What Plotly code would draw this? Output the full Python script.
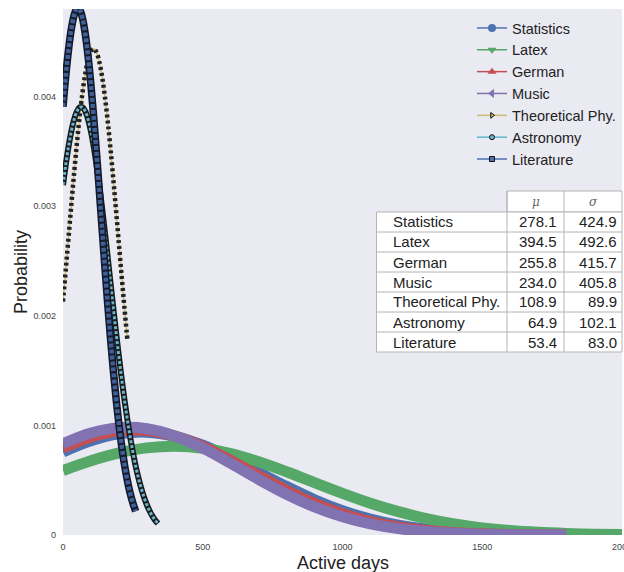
import plotly.graph_objects as go

# ---------------- data ----------------
subjects = ["Statistics", "Latex", "German", "Music", "Theoretical Phy.", "Astronomy", "Literature"]
mu = ["278.1", "394.5", "255.8", "234.0", "108.9", "64.9", "53.4"]
sigma = ["424.9", "492.6", "415.7", "405.8", "89.9", "102.1", "83.0"]
table_header = ["μ", "σ"]

days_wide = [0, 100, 200, 300, 400, 500, 600, 700, 800, 900, 1000, 1100, 1200,
             1300, 1400, 1500, 1600, 1700, 1800]
days_latex = days_wide + [1900, 2000]
stat_p = [0.000758, 0.000860, 0.000923, 0.000938, 0.000901, 0.000819, 0.000705, 0.000573,
          0.000442, 0.000322, 0.000222, 0.000145, 0.0000892, 0.0000521, 0.0000288,
          0.0000150, 0.0000074, 0.0000035, 0.0000015]
latex_p = [0.000588, 0.000677, 0.000749, 0.000795, 0.000810, 0.000792, 0.000742, 0.000668,
           0.000577, 0.000478, 0.000380, 0.000290, 0.000213, 0.000150, 0.000101,
           0.0000653, 0.0000406, 0.0000242, 0.0000138, 0.0000076, 0.0000040]
german_p = [0.000794, 0.000895, 0.000951, 0.000954, 0.000904, 0.000808, 0.000681, 0.000542,
            0.000407, 0.000289, 0.000193, 0.000122, 0.0000727, 0.0000409, 0.0000217,
            0.0000109, 0.0000051, 0.0000023, 0.0000010]
music_p = [0.000833, 0.000931, 0.000980, 0.000970, 0.000904, 0.000793, 0.000655, 0.000508,
           0.000372, 0.000256, 0.000166, 0.000101, 0.0000578, 0.0000312, 0.0000158,
           0.0000076, 0.0000034, 0.0000014, 0.0000006]

days_theo = [0, 10, 20, 30, 40, 50, 60, 70, 80, 90, 100, 110, 120, 130, 140, 150, 160,
             170, 180, 190, 200, 210, 220, 230]
theo_p = [0.002131, 0.002423, 0.002721, 0.003020, 0.003309, 0.003581, 0.003828, 0.004041,
          0.004214, 0.004341, 0.004416, 0.004438, 0.004404, 0.004317, 0.004181, 0.003998,
          0.003776, 0.003522, 0.003246, 0.002954, 0.002656, 0.002358, 0.002068, 0.001791]

days_astro = [0, 10, 20, 30, 40, 50, 60, 70, 80, 90, 100, 110, 120, 130, 140, 150, 160,
              170, 180, 190, 200, 210, 220, 230, 240, 250, 260, 270, 280, 290, 300, 310,
              320, 330, 340]
astro_p = [0.003193, 0.003381, 0.003547, 0.003686, 0.003793, 0.003866, 0.003903, 0.003902,
           0.003865, 0.003791, 0.003683, 0.003544, 0.003378, 0.003188, 0.002981, 0.002760,
           0.002532, 0.002300, 0.002070, 0.001844, 0.001628, 0.001423, 0.001232, 0.001057,
           0.000898, 0.000756, 0.000629, 0.000520, 0.000425, 0.000344, 0.000276, 0.000219,
           0.000172, 0.000134, 0.000104]

days_lit = [0, 10, 20, 30, 40, 50, 60, 70, 80, 90, 100, 110, 120, 130, 140, 150, 160,
            170, 180, 190, 200, 210, 220, 230, 240, 250, 260]
lit_p = [0.003908, 0.004193, 0.004433, 0.004620, 0.004745, 0.004803, 0.004792, 0.004712,
         0.004566, 0.004362, 0.004106, 0.003810, 0.003484, 0.003140, 0.002789, 0.002442,
         0.002107, 0.001792, 0.001502, 0.001241, 0.001010, 0.000811, 0.000641, 0.000500,
         0.000384, 0.000291, 0.000217]

x_ticks = [0, 500, 1000, 1500, 2000]
y_ticks = [0, 0.001, 0.002, 0.003, 0.004]
y_ticktext = ["0", "0.001", "0.002", "0.003", "0.004"]

# ---------------- geometry ----------------
BLUE, GREEN, RED, PURPLE, YELLOW, CYAN = "#4C72B0", "#55A868", "#C44E52", "#8172B2", "#CCB974", "#64B5CD"
W, H = 624, 572
ML, MR, MT, MB = 63, 2, 9, 37
PW, PH = W - ML - MR, H - MT - MB

def px(x):  # window pixel -> paper x
    return (x - ML) / PW

def py(y):  # window pixel -> paper y
    return (H - MB - y) / PH

fig = go.Figure()

def line(x, y, color, width, dash="solid"):
    fig.add_trace(go.Scatter(x=x, y=y, mode="lines", showlegend=False, hoverinfo="skip",
                             line=dict(color=color, width=width, shape="spline", dash=dash)))

# wide distributions (dense markers form thick bands)
line(days_wide, stat_p, BLUE, 11)
line(days_latex, latex_p, GREEN, 11)
line(days_wide, german_p, RED, 11)
line(days_wide, music_p, PURPLE, 11)

# narrow distributions: dense black-edged markers
line(days_theo, theo_p, YELLOW, 1.5)
line(days_theo, theo_p, "#222222", 4.5, "3px,3px")
line(days_astro, astro_p, "#1a1a1a", 6)
line(days_astro, astro_p, CYAN, 3, "3px,2px")
line(days_lit, lit_p, "#141a2a", 7.5)
line(days_lit, lit_p, "#3f5f99", 4.5, "4px,2px")

# legend entries
leg_styles = [
    (BLUE, "circle", 8, BLUE, 0),
    (GREEN, "triangle-down", 8, GREEN, 0),
    (RED, "triangle-up", 8, RED, 0),
    (PURPLE, "triangle-left", 8, PURPLE, 0),
    (YELLOW, "triangle-right", 5, YELLOW, 1),
    (CYAN, "circle", 5, CYAN, 1),
    (BLUE, "square", 5, BLUE, 1),
]
for name, (lc, sym, sz, fc, ew) in zip(subjects, leg_styles):
    fig.add_trace(go.Scatter(x=[None], y=[None], mode="lines+markers", name=name,
                             line=dict(color=lc, width=1.5),
                             marker=dict(symbol=sym, size=sz, color=fc,
                                         line=dict(color="#111111", width=ew))))

# ---------------- table of parameters (shapes + text) ----------------
TX0, TX1, TX2, TX3 = 376.5, 507, 564, 622
HY0, TY0, ROW = 191, 212, 20
TY1 = TY0 + ROW * len(subjects)
GRID = "#b4b4b4"
shapes = []
shapes.append(dict(type="rect", xref="paper", yref="paper", x0=px(TX1), x1=px(TX3),
                   y0=py(TY0), y1=py(HY0), fillcolor="white", line=dict(color=GRID, width=1), layer="above"))
shapes.append(dict(type="rect", xref="paper", yref="paper", x0=px(TX0), x1=px(TX3),
                   y0=py(TY1), y1=py(TY0), fillcolor="white", line=dict(color=GRID, width=1), layer="above"))
for i in range(1, len(subjects)):
    yy = py(TY0 + ROW * i)
    shapes.append(dict(type="line", xref="paper", yref="paper", x0=px(TX0), x1=px(TX3),
                       y0=yy, y1=yy, line=dict(color=GRID, width=1), layer="above"))
for xx in (TX1, TX2):
    shapes.append(dict(type="line", xref="paper", yref="paper", x0=px(xx), x1=px(xx),
                       y0=py(TY1), y1=py(HY0), line=dict(color=GRID, width=1), layer="above"))

annotations = []
for j, h in enumerate(table_header):
    cx = (TX1 + TX2) / 2 if j == 0 else (TX2 + TX3) / 2
    annotations.append(dict(x=px(cx), y=py((HY0 + TY0) / 2), xref="paper", yref="paper",
                            text=f"<i>{h}</i>", showarrow=False, xanchor="center", yanchor="middle",
                            font=dict(family="DejaVu Serif", size=12, color="#666666")))
for i, (s, m, sg) in enumerate(zip(subjects, mu, sigma)):
    cy = py(TY0 + ROW * i + ROW / 2)
    annotations.append(dict(x=px(TX0 + 14), y=cy, xref="paper", yref="paper", text=s,
                            showarrow=False, xanchor="left", yanchor="middle",
                            font=dict(size=15, color="#222222")))
    annotations.append(dict(x=px(TX2 - 5), y=cy, xref="paper", yref="paper", text=m,
                            showarrow=False, xanchor="right", yanchor="middle",
                            font=dict(size=15, color="#222222")))
    annotations.append(dict(x=px(TX3 - 3), y=cy, xref="paper", yref="paper", text=sg,
                            showarrow=False, xanchor="right", yanchor="middle",
                            font=dict(size=15, color="#222222")))

# axis titles
annotations.append(dict(x=0.5, y=py(563), xref="paper", yref="paper", text="Active days",
                        showarrow=False, xanchor="center", yanchor="middle",
                        font=dict(size=18, color="#222222")))
annotations.append(dict(x=px(21), y=0.5, xref="paper", yref="paper", text="Probability",
                        showarrow=False, xanchor="center", yanchor="middle", textangle=-90,
                        font=dict(size=18, color="#222222")))

fig.update_layout(
    width=W, height=H,
    margin=dict(l=ML, r=MR, t=MT, b=MB, autoexpand=False),
    paper_bgcolor="white", plot_bgcolor="#EAEAF2",
    font=dict(family="Liberation Sans, Arial", color="#333333"),
    showlegend=True,
    legend=dict(x=px(472), y=py(12), xanchor="left", yanchor="top", bgcolor="rgba(0,0,0,0)",
                font=dict(size=14.5, color="#222222"), itemwidth=30, tracegroupgap=0),
    shapes=shapes, annotations=annotations,
    xaxis=dict(range=[0, 2000], tickvals=x_ticks, ticktext=[str(v) for v in x_ticks],
               showgrid=False, zeroline=False, showline=False, ticks="", automargin=False,
               ticklabelstandoff=5, ticklabeloverflow="allow",
               tickfont=dict(size=9, color="#444444")),
    yaxis=dict(range=[0, 0.0048], tickvals=y_ticks, ticktext=y_ticktext,
               showgrid=False, zeroline=False, showline=False, ticks="", automargin=False,
               ticklabelstandoff=6,
               tickfont=dict(size=9, color="#444444")),
)

# remove the default page margin so the 624x572 figure fills the window exactly
fig.write_html("out.html", config={"displayModeBar": False},
               post_script="document.body.style.margin='0px';")
